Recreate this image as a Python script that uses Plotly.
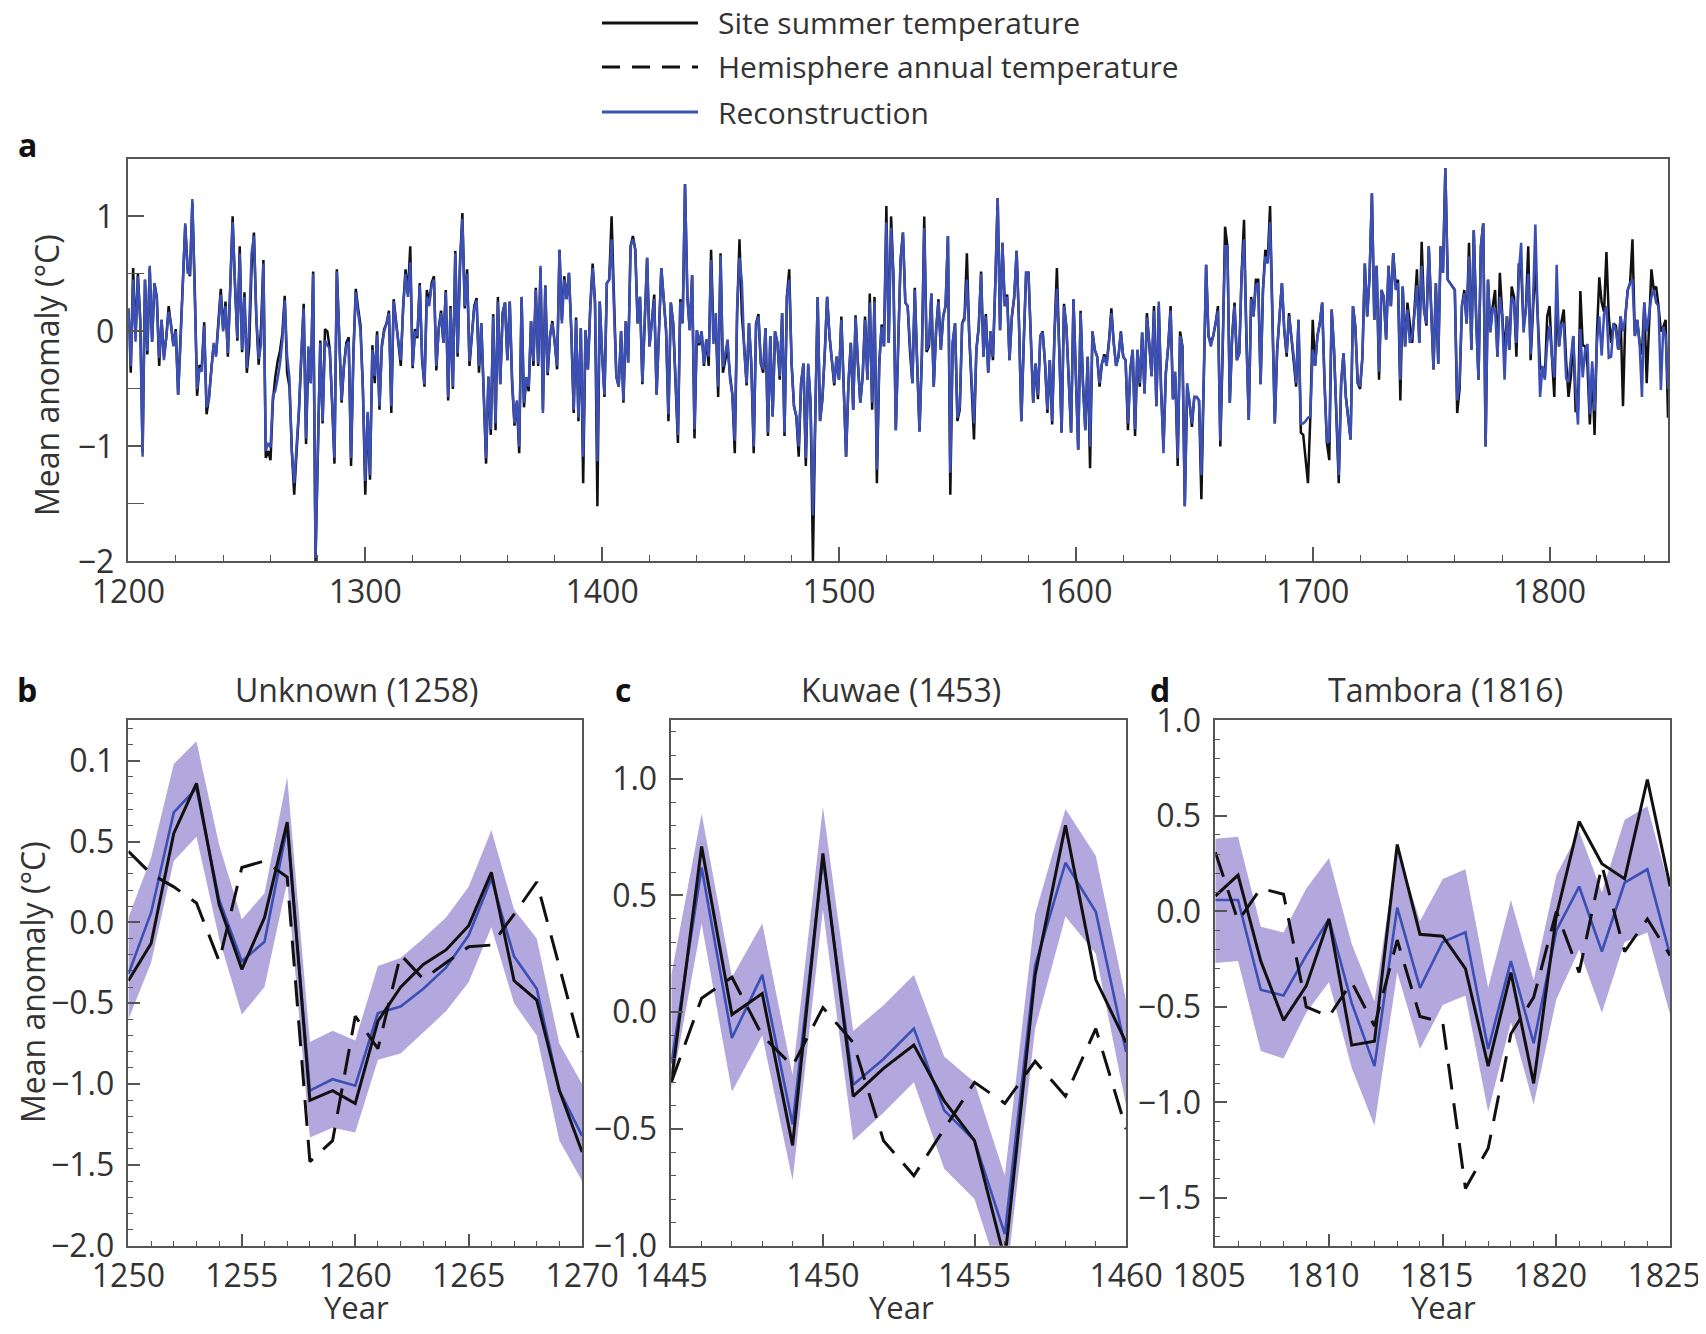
import plotly.graph_objects as go

# ---------------- Panel a data (annual, 1200-1850) ----------------
year_start_a = 1200
recon_a = [
    0.20, -0.30, 0.45, -0.09, 0.48, 0.10, -1.09, 0.45, -0.17, 0.57,
    -0.09, 0.42, 0.28, -0.23, 0.10, -0.25, -0.05, 0.17, 0.07, -0.13,
    0.00, -0.55, -0.10, 0.45, 0.94, 0.51, 0.50, 1.15, 0.42, -0.50,
    -0.32, -0.35, 0.05, -0.66, -0.59, -0.35, -0.10, -0.22, 0.10, 0.32,
    0.00, 0.22, -0.19, 0.40, 0.95, 0.42, -0.06, 0.68, -0.16, 0.30,
    -0.32, 0.06, 0.68, 0.83, 0.14, -0.24, -0.12, 0.59, -1.04, -0.97,
    -1.01, -0.56, -0.52, -0.41, -0.28, -0.08, 0.27, -0.21, -0.41, -1.04,
    -1.32, -1.00, -0.68, -0.20, 0.20, -0.93, -0.13, -0.45, 0.50, -1.97,
    -1.00, -0.10, -0.78, -0.08, -0.12, -0.15, -0.60, -1.10, 0.52, 0.00,
    -0.60, -0.30, -0.12, -0.09, -1.10, -0.20, 0.34, 0.16, 0.00, -0.50,
    -1.30, -0.70, -1.25, -0.16, -0.39, -0.03, -0.65, -0.14, 0.00, 0.07,
    0.16, -0.65, 0.26, 0.07, -0.10, -0.25, 0.20, 0.50, 0.30, 0.60,
    -0.30, 0.00, -0.04, 0.40, -0.22, -0.46, 0.30, 0.22, 0.40, 0.45,
    -0.30, 0.01, 0.16, -0.10, 0.34, -0.57, 0.20, -0.48, 0.68, -0.19,
    0.55, 0.98, 0.22, 0.50, -0.26, -0.04, 0.20, 0.27, -0.30, 0.07,
    -0.50, -1.10, -0.39, -0.85, 0.13, -0.80, 0.26, -0.46, 0.16, 0.25,
    -0.25, 0.26, -0.42, -0.80, -0.60, -1.00, 0.30, -0.62, -0.40, -0.48,
    0.09, -0.26, 0.36, -0.28, 0.57, -0.71, 0.39, -0.36, -0.04, 0.07,
    -0.10, -0.30, 0.71, 0.07, 0.45, 0.28, 0.51, 0.00, -0.68, 0.10,
    -0.75, 0.03, -1.09, 0.01, -0.33, 0.20, 0.55, 0.25, -1.13, 0.26,
    -0.20, -0.55, 0.42, 0.45, 0.80, 0.25, -0.39, -0.48, 0.00, -0.60,
    0.09, -0.27, 0.74, 0.80, 0.71, 0.07, 0.30, -0.44, 0.13, 0.64,
    -0.13, 0.07, 0.28, -0.55, 0.00, 0.55, 0.28, 0.01, -0.72, 0.25,
    0.07, -0.40, -0.90, 0.26, 0.07, 1.28, 0.30, 0.01, 0.49, -0.85,
    0.01, -0.10, 0.00, -0.28, -0.07, -0.22, 0.62, -0.11, 0.16, -0.48,
    0.66, -0.31, -0.20, -0.07, -0.42, -0.55, -0.95, 0.20, 0.64, 0.43,
    -0.17, -0.45, 0.07, -0.28, -1.00, 0.07, 0.13, -0.28, -0.33, 0.03,
    -0.88, -0.04, -0.74, 0.00, -0.10, -0.39, 0.16, -0.88, 0.30, 0.45,
    -0.28, -0.65, -0.74, -1.00, -0.45, -0.28, -1.10, -0.28, -0.62, -1.60,
    -0.74, 0.30, -0.78, -0.59, -0.19, 0.30, -0.04, -0.25, -0.45, -0.22,
    -0.42, 0.10, -0.45, -1.09, -0.45, -0.10, -0.68, 0.12, -0.28, -0.62,
    -0.39, 0.10, -0.42, 0.25, -0.62, 0.26, -1.20, -0.28, 0.04, -0.13,
    0.95, -0.10, 0.90, 0.48, -0.86, -0.10, 0.62, 0.86, 0.25, 0.22,
    -0.16, -0.45, 0.36, -0.28, -0.87, -0.20, 0.90, -0.16, -0.10, 0.33,
    -0.48, 0.01, 0.26, -0.16, 0.13, 0.22, 0.83, -1.23, -0.10, 0.07,
    -0.75, -0.65, 0.07, 0.10, 0.45, -0.04, -0.45, -0.80, -0.16, 0.04,
    0.50, -0.22, 0.13, -0.36, 0.00, -0.22, 0.42, 1.16, 0.01, 0.77,
    0.22, 0.30, -0.25, 0.13, 0.30, 0.70, 0.07, -0.78, -0.10, 0.51,
    0.51, -0.04, -0.62, -0.28, -0.55, -0.04, -0.01, -0.28, -0.68, -0.25,
    -0.78, -0.01, 0.37, -0.16, -0.88, 0.22, 0.04, -0.42, -0.88, 0.28,
    -0.45, -1.03, 0.16, -0.45, -0.86, -0.22, -1.00, 0.00, -0.16, -0.22,
    -0.45, -0.28, -0.22, -0.30, -0.10, 0.16, -0.10, -0.30, -0.22, -0.01,
    -0.22, -0.25, -0.80, -0.33, -0.16, -0.85, -0.16, -0.45, -0.01, -0.54,
    0.12, -0.10, -0.39, 0.18, -0.65, 0.26, -0.51, -1.06, -0.36, -0.13,
    0.18, -0.59, -0.35, -1.10, -0.04, -0.13, -1.52, -0.45, -0.62, -0.80,
    -0.57, -0.57, -0.60, -1.25, -0.40, 0.58, -0.04, -0.13, -0.04, 0.07,
    0.18, -0.95, -0.16, 0.74, 0.74, -0.62, -0.04, 0.22, -0.25, -0.19,
    0.51, 0.80, -0.04, -0.77, 0.28, 0.13, 0.40, 0.42, -0.46, 0.36,
    0.65, 0.59, 0.95, 0.07, -0.80, -0.16, 0.13, 0.42, 0.01, -0.19,
    0.13, -0.04, -0.22, -0.45, 0.10, -0.80, -0.80, -0.78, -0.75, -0.74,
    -0.16, -0.30, -0.04, 0.07, 0.25, -0.45, -0.97, -0.95, 0.19, -0.16,
    -0.74, -1.25, -0.45, -0.19, -0.57, -0.74, -0.94, 0.22, 0.04, -0.45,
    -0.48, -0.22, 0.59, 0.13, 0.48, 1.20, 0.10, 0.57, -0.35, 0.36,
    0.30, -0.07, 0.57, 0.22, 0.68, 0.36, 0.42, -0.42, 0.39, -0.13,
    0.19, -0.10, -0.04, 0.16, 0.40, -0.10, 0.57, 0.19, 0.07, 0.74,
    0.25, -0.33, 0.42, -0.28, 0.74, 0.51, 1.42, 0.45, 0.42, 0.39,
    0.36, -0.60, -0.45, 0.22, 0.33, 0.07, 0.65, -0.16, 0.88, 0.13,
    -0.42, 0.74, 0.94, -1.00, 0.45, -0.01, 0.20, 0.20, -0.22, 0.30,
    0.13, -0.42, 0.13, -0.16, 0.30, 0.25, -0.10, 0.50, 0.77, -0.01,
    0.19, 0.50, -0.20, 0.25, 0.93, 0.13, -0.57, -0.30, -0.42, -0.10,
    0.05, -0.22, -0.40, 0.58, -0.13, 0.06, 0.06, -0.41, -0.44, -0.23,
    -0.04, -0.50, -0.81, 0.02, -0.40, -0.16, -0.11, -0.72, -0.26, -0.69,
    -0.10, 0.13, -0.21, 0.15, 0.22, -0.23, -0.22, 0.07, 0.01, -0.16,
    0.13, 0.00, 0.13, 0.36, 0.42, 0.45, -0.04, 0.10, -0.10, -0.57,
    0.25, 0.00, 0.13, 0.30, 0.36, 0.25, 0.22, -0.51, 0.04, -0.04,
    -0.50,
]
site_a = [
    0.20, -0.36, 0.55, -0.05, 0.50, 0.10, -1.05, 0.45, -0.20, 0.55,
    -0.09, 0.42, 0.30, -0.30, 0.10, -0.22, -0.05, 0.22, 0.05, -0.12,
    0.02, -0.55, -0.05, 0.45, 0.92, 0.55, 0.48, 1.12, 0.40, -0.56,
    -0.30, -0.30, 0.08, -0.72, -0.58, -0.33, -0.12, -0.20, 0.12, 0.37,
    0.02, 0.26, -0.22, 0.38, 1.00, 0.40, -0.08, 0.74, -0.18, 0.34,
    -0.36, -0.13, 0.55, 0.86, 0.11, -0.29, 0.03, 0.62, -1.10, -1.04,
    -1.12, -0.61, -0.40, -0.26, -0.17, -0.02, 0.31, -0.36, -0.48, -1.04,
    -1.42, -1.05, -0.70, -0.22, 0.24, -0.98, -0.16, -0.45, 0.52, -2.00,
    -1.00, -0.08, -0.80, 0.02, 0.00, -0.15, -0.62, -1.15, 0.54, 0.02,
    -0.62, -0.30, -0.10, -0.05, -1.17, -0.18, 0.37, 0.20, 0.05, -0.50,
    -1.42, -0.72, -1.29, -0.12, -0.45, 0.00, -0.68, -0.12, 0.02, 0.07,
    0.18, -0.71, 0.28, 0.09, -0.12, -0.30, 0.22, 0.54, 0.33, 0.74,
    -0.32, 0.02, -0.06, 0.42, -0.25, -0.48, 0.36, 0.25, 0.42, 0.48,
    -0.34, 0.03, 0.18, -0.10, 0.36, -0.60, 0.22, -0.50, 0.70, -0.22,
    0.60, 1.03, 0.20, 0.54, -0.30, -0.04, 0.22, 0.29, -0.36, 0.07,
    -0.52, -1.15, -0.40, -0.90, 0.15, -0.86, 0.30, -0.46, 0.16, 0.25,
    -0.25, 0.26, -0.45, -0.82, -0.62, -1.06, 0.30, -0.66, -0.40, -0.52,
    0.09, -0.30, 0.38, -0.30, 0.55, -0.68, 0.40, -0.38, -0.04, 0.09,
    -0.10, -0.33, 0.71, 0.10, 0.48, 0.28, 0.51, 0.00, -0.71, 0.12,
    -0.78, 0.03, -1.32, 0.01, -0.33, 0.22, 0.59, 0.25, -1.52, 0.26,
    -0.20, -0.57, 0.42, 0.45, 1.00, 0.25, -0.39, -0.48, 0.00, -0.62,
    0.09, -0.27, 0.74, 0.83, 0.71, 0.07, 0.30, -0.46, 0.13, 0.64,
    -0.13, 0.07, 0.32, -0.55, 0.00, 0.55, 0.28, 0.01, -0.78, 0.25,
    0.07, -0.40, -0.97, 0.28, 0.07, 1.28, 0.30, 0.01, 0.49, -0.93,
    0.01, -0.12, 0.00, -0.30, -0.07, -0.30, 0.71, -0.01, 0.08, -0.57,
    0.68, -0.36, -0.24, -0.14, -0.38, -0.55, -1.06, 0.16, 0.80, 0.14,
    -0.13, -0.47, 0.07, -0.30, -1.06, 0.07, 0.15, -0.28, -0.36, 0.03,
    -0.91, -0.04, -0.74, 0.00, -0.10, -0.42, 0.16, -0.91, 0.30, 0.54,
    -0.28, -0.65, -0.74, -1.09, -0.45, -0.28, -1.17, -0.30, -0.62, -2.00,
    -0.74, 0.30, -0.78, -0.59, -0.19, 0.30, -0.04, -0.25, -0.47, -0.22,
    -0.42, 0.13, -0.45, -1.09, -0.45, -0.10, -0.68, 0.14, -0.28, -0.62,
    -0.39, 0.13, -0.42, 0.33, -0.68, 0.30, -1.32, -0.28, 0.06, -0.13,
    1.09, -0.10, 1.00, 0.48, -0.86, -0.10, 0.62, 0.86, 0.25, 0.22,
    -0.18, -0.45, 0.38, -0.28, -0.87, -0.20, 1.00, -0.18, -0.13, 0.33,
    -0.48, 0.01, 0.28, -0.16, 0.13, 0.22, 0.83, -1.42, -0.10, 0.07,
    -0.78, -0.68, 0.07, 0.12, 0.68, -0.04, -0.45, -0.94, -0.16, 0.04,
    0.52, -0.22, 0.15, -0.36, 0.00, -0.25, 0.42, 1.16, 0.01, 0.77,
    0.22, 0.32, -0.25, 0.13, 0.30, 0.70, 0.07, -0.78, -0.10, 0.51,
    0.51, -0.04, -0.62, -0.28, -0.59, -0.04, 0.00, -0.28, -0.71, -0.25,
    -0.81, 0.00, 0.55, -0.16, -0.88, 0.24, 0.04, -0.42, -0.88, 0.28,
    -0.45, -1.03, 0.18, -0.45, -0.86, -0.22, -1.19, 0.00, -0.16, -0.22,
    -0.48, -0.28, -0.20, -0.28, -0.08, 0.20, -0.10, -0.30, -0.22, 0.00,
    -0.22, -0.25, -0.86, -0.33, -0.16, -0.91, -0.16, -0.48, -0.01, -0.54,
    0.16, -0.10, -0.39, 0.22, -0.65, 0.22, -0.51, -1.00, -0.36, -0.13,
    0.22, -0.59, -0.39, -1.17, 0.00, -0.13, -1.52, -0.48, -0.62, -0.83,
    -0.57, -0.57, -0.60, -1.46, -0.40, 0.58, -0.04, -0.10, -0.04, 0.07,
    0.22, -1.00, -0.16, 0.91, 0.74, -0.62, -0.04, 0.25, -0.25, -0.19,
    0.51, 0.97, -0.04, -0.77, 0.30, 0.13, 0.45, 0.45, -0.46, 0.36,
    0.71, 0.62, 1.09, 0.07, -0.80, -0.16, 0.13, 0.42, 0.01, -0.22,
    0.16, -0.04, -0.22, -0.48, 0.10, -0.88, -0.90, -1.10, -1.32, -0.74,
    0.10, -0.30, -0.04, 0.07, 0.25, -0.45, -0.97, -1.12, 0.19, -0.16,
    -0.74, -1.32, -0.45, -0.19, -0.57, -0.74, -0.94, 0.22, 0.04, -0.45,
    -0.50, -0.22, 0.59, 0.13, 0.48, 1.20, 0.10, 0.57, -0.42, 0.36,
    0.30, -0.07, 0.57, 0.22, 0.68, 0.40, 0.45, -0.60, 0.39, -0.13,
    0.25, 0.07, -0.10, 0.20, 0.54, -0.10, 0.78, 0.19, 0.05, 0.74,
    0.25, -0.33, 0.42, -0.28, 0.74, 0.51, 1.42, 0.45, 0.42, 0.39,
    0.36, -0.71, -0.50, 0.22, 0.36, 0.07, 0.77, -0.16, 0.88, 0.13,
    -0.42, 0.74, 0.94, -1.00, 0.45, 0.01, 0.22, 0.36, -0.22, 0.51,
    0.13, -0.20, 0.13, -0.16, 0.39, 0.30, -0.22, 0.59, 0.55, 0.05,
    0.19, 0.74, -0.25, 0.25, 0.60, 0.13, -0.30, -0.35, -0.40, 0.13,
    0.22, -0.22, -0.57, 0.30, -0.13, 0.08, 0.19, -0.26, -0.57, -0.39,
    -0.04, -0.70, -0.68, 0.35, -0.12, -0.13, -0.30, -0.81, -0.32, -0.90,
    -0.02, 0.47, 0.25, 0.17, 0.69, 0.13, -0.10, 0.07, 0.05, -0.16,
    0.13, -0.65, 0.13, 0.36, 0.42, 0.80, -0.04, 0.10, -0.10, -0.20,
    0.25, -0.45, 0.13, 0.54, 0.36, 0.39, 0.22, 0.00, 0.04, 0.10,
    -0.75,
]
assert len(recon_a) == len(site_a) == 651
years_a = list(range(year_start_a, year_start_a + len(recon_a)))

# ---------------- Panel b: Unknown (1258) ----------------
years_b = list(range(1250, 1271))
site_b = [-0.36, -0.13, 0.55, 0.86, 0.11, -0.29, 0.03, 0.62, -1.10, -1.04, -1.12,
          -0.61, -0.40, -0.26, -0.17, -0.02, 0.31, -0.36, -0.48, -1.04, -1.42]
hemi_b = [0.44, 0.30, 0.22, 0.12, -0.24, 0.34, 0.38, 0.28, -1.48, -1.35, -0.58,
          -0.78, -0.20, -0.35, -0.25, -0.15, -0.14, 0.05, 0.25, -0.27, -0.80]
recon_b = [-0.32, 0.06, 0.68, 0.83, 0.14, -0.24, -0.12, 0.59, -1.04, -0.97, -1.01,
           -0.56, -0.52, -0.41, -0.28, -0.08, 0.27, -0.21, -0.41, -1.04, -1.32]
upper_b = [0.03, 0.40, 0.98, 1.12, 0.48, 0.02, 0.18, 0.90, -0.74, -0.67, -0.73,
           -0.27, -0.22, -0.10, 0.03, 0.22, 0.57, 0.08, -0.10, -0.75, -1.00]
lower_b = [-0.60, -0.25, 0.38, 0.53, -0.10, -0.57, -0.40, 0.25, -1.33, -1.27, -1.30,
           -0.85, -0.81, -0.68, -0.55, -0.37, -0.03, -0.50, -0.70, -1.35, -1.60]

# ---------------- Panel c: Kuwae (1453) ----------------
years_c = list(range(1445, 1461))
site_c = [-0.30, 0.71, -0.01, 0.08, -0.57, 0.68, -0.36, -0.24, -0.14, -0.38,
          -0.55, -1.06, 0.16, 0.80, 0.14, -0.13]
hemi_c = [-0.30, 0.06, 0.15, -0.10, -0.23, 0.02, -0.13, -0.55, -0.70, -0.50,
          -0.30, -0.39, -0.21, -0.36, -0.07, -0.50]
recon_c = [-0.22, 0.62, -0.11, 0.16, -0.48, 0.66, -0.31, -0.20, -0.07, -0.42,
           -0.55, -0.95, 0.20, 0.64, 0.43, -0.17]
upper_c = [0.16, 0.85, 0.15, 0.38, -0.27, 0.88, -0.08, 0.03, 0.16, -0.19,
           -0.30, -0.70, 0.42, 0.87, 0.67, 0.05]
lower_c = [-0.33, 0.38, -0.34, -0.10, -0.72, 0.44, -0.55, -0.43, -0.30, -0.67,
           -0.80, -1.20, -0.07, 0.41, 0.25, -0.40]

# ---------------- Panel d: Tambora (1816) ----------------
years_d = list(range(1805, 1826))
site_d = [0.08, 0.19, -0.26, -0.57, -0.39, -0.04, -0.70, -0.68, 0.35, -0.12, -0.13,
          -0.30, -0.81, -0.32, -0.90, -0.02, 0.47, 0.25, 0.17, 0.69, 0.13]
hemi_d = [0.31, -0.05, 0.12, 0.09, -0.50, -0.55, -0.37, -0.60, -0.15, -0.55, -0.58,
          -1.45, -1.24, -0.64, -0.45, 0.00, -0.32, 0.24, -0.21, -0.04, -0.23]
recon_d = [0.06, 0.06, -0.41, -0.44, -0.23, -0.04, -0.48, -0.81, 0.02, -0.40, -0.16,
           -0.11, -0.72, -0.26, -0.69, -0.10, 0.13, -0.21, 0.15, 0.22, -0.23]
upper_d = [0.38, 0.39, -0.08, -0.11, 0.12, 0.28, -0.17, -0.47, 0.33, -0.05, 0.17,
           0.22, -0.40, 0.06, -0.36, 0.19, 0.42, 0.10, 0.48, 0.55, 0.11]
lower_d = [-0.27, -0.26, -0.73, -0.77, -0.53, -0.37, -0.82, -1.12, -0.32, -0.72, -0.49,
           -0.44, -1.05, -0.58, -1.01, -0.46, -0.20, -0.53, -0.16, -0.11, -0.54]

# ---------------- Style ----------------
FONT = "Open Sans, Liberation Sans, sans-serif"
TXT = "#333333"
AXC = "#555555"
BLUE = "#3b4fb4"
BAND = "#b3a8dd"
BLACK = "#111111"
FS = 32

# page offset (browser body margin) and figure size
OFF = 8
W, H = 1706 - 2 * OFF, 1334 - 2 * OFF

def px(x):
    return (x - OFF) / W

def py(y):
    return 1 - (y - OFF) / H

def dom_x(x0, x1):
    return [px(x0), px(x1)]

def dom_y(ytop, ybot):
    return [py(ybot), py(ytop)]

fig = go.Figure()

# Panel a
fig.add_trace(go.Scatter(x=years_a, y=site_a, mode="lines", xaxis="x", yaxis="y",
                         line=dict(color=BLACK, width=2.5), showlegend=False))
fig.add_trace(go.Scatter(x=years_a, y=recon_a, mode="lines", xaxis="x", yaxis="y",
                         line=dict(color=BLUE, width=2.5), showlegend=False))

def add_panel(xs, up, lo, rec, site, hemi, xa, ya):
    fig.add_trace(go.Scatter(x=xs, y=up, mode="lines", xaxis=xa, yaxis=ya,
                             line=dict(width=0, color=BAND), showlegend=False, hoverinfo="skip"))
    fig.add_trace(go.Scatter(x=xs, y=lo, mode="lines", xaxis=xa, yaxis=ya, fill="tonexty",
                             fillcolor=BAND, line=dict(width=0, color=BAND), showlegend=False,
                             hoverinfo="skip"))
    fig.add_trace(go.Scatter(x=xs, y=rec, mode="lines", xaxis=xa, yaxis=ya,
                             line=dict(color=BLUE, width=2.6), showlegend=False))
    fig.add_trace(go.Scatter(x=xs, y=site, mode="lines", xaxis=xa, yaxis=ya,
                             line=dict(color=BLACK, width=3), showlegend=False))
    fig.add_trace(go.Scatter(x=xs, y=hemi, mode="lines", xaxis=xa, yaxis=ya,
                             line=dict(color=BLACK, width=3, dash="26px,14px"), showlegend=False))

add_panel(years_b, upper_b, lower_b, recon_b, site_b, hemi_b, "x2", "y2")
add_panel(years_c, upper_c, lower_c, recon_c, site_c, hemi_c, "x3", "y3")
add_panel(years_d, upper_d, lower_d, recon_d, site_d, hemi_d, "x4", "y4")

def axis(domain, rng, tickvals, ticktext, ticklen, minor_tick0, minor_dtick, minor_len, anchor,
         standoff=4, shift=0):
    return dict(domain=domain, range=rng, anchor=anchor, tickmode="array", automargin=False,
                tickvals=tickvals, ticktext=ticktext, ticks="inside", ticklen=ticklen,
                tickwidth=1.5, tickcolor=AXC, showline=True, linecolor=AXC, linewidth=1.5,
                mirror=True, showgrid=False, zeroline=False, ticklabeloverflow="allow",
                ticklabelshift=shift,
                tickfont=dict(family=FONT, size=FS, color=TXT), ticklabelstandoff=standoff,
                minor=dict(tickmode="linear", tick0=minor_tick0, dtick=minor_dtick,
                           ticks="inside", ticklen=minor_len, tickwidth=1.3, tickcolor=AXC,
                           showgrid=False))

M = "\u2212"
xa_vals = [1200, 1300, 1400, 1500, 1600, 1700, 1800]
TOP_BDC, BOT_BDC = 720.3, 1245.8
fig.update_layout(
    width=W, height=H, margin=dict(l=0, r=0, t=0, b=0, autoexpand=False),
    paper_bgcolor="white", plot_bgcolor="white", showlegend=False,
    font=dict(family=FONT, size=FS, color=TXT),
    xaxis=axis(dom_x(128.4, 1668.0), [1200, 1850], xa_vals, [str(v) for v in xa_vals],
               15, 1200, 20, 7, "y", standoff=1),
    yaxis=axis(dom_y(158.9, 561.4), [-2, 1.5], [-2, -1, 0, 1], [M + "2", M + "1", "0", "1"],
               16, 0, 0.5, 16, "x", standoff=6),
    xaxis2=axis(dom_x(128.4, 582.1), [1250, 1270], [1250, 1255, 1260, 1265, 1270],
                ["1250", "1255", "1260", "1265", "1270"], 12, 1250, 1, 5, "y2", standoff=1),
    yaxis2=axis(dom_y(TOP_BDC, BOT_BDC), [-2, 1.25], [-2, -1.5, -1, -0.5, 0, 0.5, 1.0],
                [M + "2.0", M + "1.5", M + "1.0", M + "0.5", "0.0", "0.5", "0.1"],
                12, 0, 0.1, 5, "x2", standoff=6),
    xaxis3=axis(dom_x(671.3, 1126.1), [1445, 1460], [1445, 1450, 1455, 1460],
                ["1445", "1450", "1455", "1460"], 12, 1445, 1, 5, "y3", standoff=1),
    yaxis3=axis(dom_y(TOP_BDC, BOT_BDC), [-1, 1.25], [-1, -0.5, 0, 0.5, 1.0],
                [M + "1.0", M + "0.5", "0.0", "0.5", "1.0"], 12, 0, 0.1, 5, "x3", standoff=6),
    xaxis4=axis(dom_x(1215.3, 1670.1), [1805, 1825], [1805, 1810, 1815, 1820, 1825],
                ["1805", "1810", "1815", "1820", "1825"], 12, 1805, 1, 5, "y4", standoff=1,
                shift=-6),
    yaxis4=axis(dom_y(TOP_BDC, BOT_BDC), [-1.75, 1.0], [-1.5, -1, -0.5, 0, 0.5, 1.0],
                [M + "1.5", M + "1.0", M + "0.5", "0.0", "0.5", "1.0"], 12, 0, 0.1, 5, "x4",
                standoff=6),
)

ann = []
def text(x, y, s, size=FS, bold=False, xanchor="center", angle=0, color=TXT):
    ann.append(dict(x=px(x), y=py(y), xref="paper", yref="paper",
                    text=("<b>%s</b>" % s) if bold else s,
                    showarrow=False, xanchor=xanchor, yanchor="middle", textangle=angle,
                    font=dict(family=FONT, size=size, color=color)))

# panel letters
text(27, 144, "a", size=32, bold=True, color="#111")
text(27, 689, "b", size=32, bold=True, color="#111")
text(623, 689, "c", size=32, bold=True, color="#111")
text(1160, 689, "d", size=32, bold=True, color="#111")
# titles
text(356, 689, "Unknown (1258)")
text(901, 689, "Kuwae (1453)")
text(1445, 689, "Tambora (1816)")
# x titles
text(356, 1307, "Year", size=31)
text(901, 1307, "Year", size=31)
text(1443, 1307, "Year", size=31)
# y titles
text(46, 375, "Mean anomaly (\u00b0C)", angle=-90)
text(33, 982, "Mean anomaly (\u00b0C)", angle=-90)

# legend (manual)
legend_labels = ["Site summer temperature", "Hemisphere annual temperature", "Reconstruction"]
legend_y = [23, 67, 112]
shapes = []
styles = [dict(color=BLACK, width=3), dict(color=BLACK, width=3, dash="18px,12px"),
          dict(color=BLUE, width=3)]
for lab, yy, st in zip(legend_labels, legend_y, styles):
    shapes.append(dict(type="line", xref="paper", yref="paper", x0=px(602), x1=px(698),
                       y0=py(yy), y1=py(yy), line=st))
    text(716, yy, lab, size=30, xanchor="left")

fig.update_layout(annotations=ann, shapes=shapes)
fig.write_html("out.html")
